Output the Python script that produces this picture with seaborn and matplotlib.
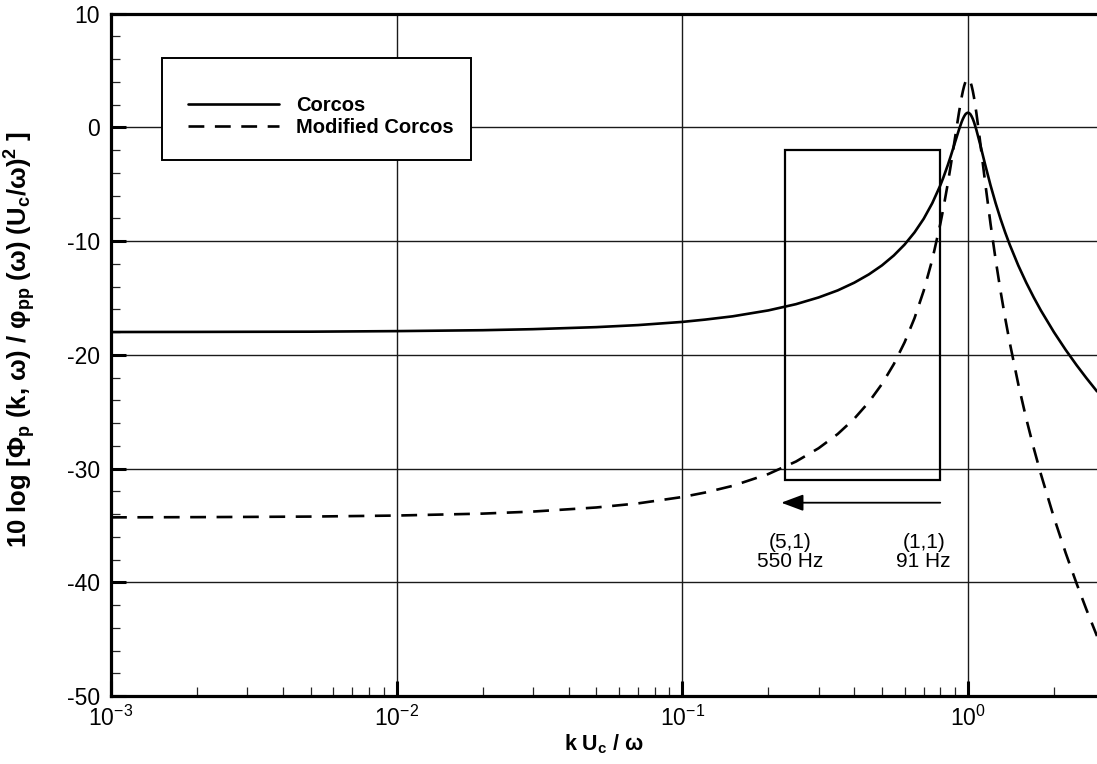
import numpy as np
import pandas as pd
import matplotlib
matplotlib.use("Agg")
import matplotlib.pyplot as plt
from matplotlib.patches import Rectangle
from matplotlib.ticker import LogLocator, MultipleLocator
import seaborn as sns

# ---- data ----
k_uc_omega = [0.001, 0.002, 0.003, 0.005, 0.01, 0.02, 0.03, 0.05, 0.07, 0.1,
              0.12, 0.15, 0.2, 0.25, 0.3, 0.35, 0.4, 0.45, 0.5, 0.55,
              0.6, 0.65, 0.7, 0.75, 0.8, 0.82, 0.85, 0.87, 0.9, 0.93,
              0.95, 0.96, 0.97, 0.98, 0.99, 1.0, 1.01, 1.02, 1.03, 1.04,
              1.05, 1.07, 1.1, 1.13, 1.15, 1.2, 1.25, 1.3, 1.35, 1.4,
              1.5, 1.6, 1.7, 1.8, 2.0, 2.2, 2.4, 2.6, 2.83]
corcos = [-17.99, -17.98, -17.97, -17.96, -17.91, -17.83, -17.74, -17.56, -17.38, -17.10,
          -16.90, -16.61, -16.09, -15.54, -14.95, -14.33, -13.65, -12.92, -12.13, -11.26,
          -10.30, -9.23, -8.03, -6.66, -5.10, -4.41, -3.31, -2.54, -1.35, -0.20,
          0.47, 0.75, 0.98, 1.16, 1.26, 1.30, 1.26, 1.16, 0.98, 0.75,
          0.47, -0.20, -1.35, -2.54, -3.31, -5.10, -6.66, -8.03, -9.23, -10.30,
          -12.13, -13.65, -14.95, -16.09, -18.00, -19.57, -20.90, -22.05, -23.21]
modified_corcos = [-34.29, -34.27, -34.25, -34.22, -34.13, -33.96, -33.78, -33.42, -33.06, -32.50,
                   -32.11, -31.52, -30.48, -29.38, -28.21, -26.96, -25.61, -24.15, -22.56, -20.82,
                   -18.90, -16.77, -14.36, -11.63, -8.50, -7.13, -4.93, -3.38, -1.00, 1.30,
                   2.64, 3.20, 3.66, 4.01, 4.22, 4.30, 4.22, 4.01, 3.66, 3.20,
                   2.64, 1.30, -1.00, -3.38, -4.93, -8.50, -11.63, -14.36, -16.77, -18.90,
                   -22.56, -25.61, -28.21, -30.48, -34.30, -37.44, -40.10, -42.41, -44.73]
series_names = ["Corcos", "Modified Corcos"]

# highlighted window and frequency-sweep arrow
box_x = [0.229, 0.80]
box_y = [-31.0, -2.0]
arrow_x = [0.80, 0.222]
arrow_y = -33.0
mode_labels = ["(5,1)\n550 Hz", "(1,1)\n91 Hz"]
mode_x = [0.238, 0.70]
mode_y = -37.3

df = pd.DataFrame({
    "x": k_uc_omega * 2,
    "y": corcos + modified_corcos,
    "model": [series_names[0]] * len(k_uc_omega) + [series_names[1]] * len(k_uc_omega),
})

sns.set_style("white")
plt.rcParams["font.family"] = ["Liberation Sans", "DejaVu Sans"]
plt.rcParams["mathtext.fontset"] = "custom"
plt.rcParams["mathtext.rm"] = "Liberation Sans"
plt.rcParams["mathtext.bf"] = "Liberation Sans:bold"
plt.rcParams["mathtext.it"] = "Liberation Sans:italic"
plt.rcParams["axes.unicode_minus"] = False
plt.rcParams["text.color"] = "black"
plt.rcParams["axes.labelcolor"] = "black"

fig = plt.figure(figsize=(10.97, 7.64), dpi=100)
ax = fig.add_axes([0.1012, 0.089, 0.8988, 0.893])

sns.lineplot(data=df, x="x", y="y", style="model", color="black",
             dashes={series_names[0]: "", series_names[1]: (6, 4)},
             linewidth=1.9, sort=False, estimator=None, ax=ax, legend=False)

ax.set_xscale("log")
ax.set_xlim(1e-3, 2.83)
ax.set_ylim(-50, 10)

ax.xaxis.set_major_locator(LogLocator(base=10, numticks=10))
ax.xaxis.set_minor_locator(LogLocator(base=10, subs=np.arange(2, 10), numticks=20))
ax.yaxis.set_major_locator(MultipleLocator(10))
ax.yaxis.set_minor_locator(MultipleLocator(2))

ax.grid(True, which="major", color="#1a1a1a", linewidth=1.0)
ax.set_axisbelow(True)

ax.tick_params(axis="both", which="both", bottom=True, left=True, top=False, right=False)
ax.tick_params(axis="both", which="major", direction="in", length=11, width=2.2,
               labelsize=16.5, pad=8, colors="black")
ax.tick_params(axis="both", which="minor", direction="in", length=6.5, width=0.9)
ax.tick_params(axis="x", which="major", pad=7)

for side in ["left", "bottom", "top"]:
    ax.spines[side].set_linewidth(2.3)
    ax.spines[side].set_color("black")
ax.spines["right"].set_visible(False)

ax.set_xlabel(r"k U$_\mathbf{c}$ / ω", fontsize=15.5, fontweight="bold", labelpad=1)
ax.set_ylabel(r"10 log [Φ$_\mathbf{p}$ (k, ω) / φ$_\mathbf{pp}$ (ω) (U$_\mathbf{c}$/ω)$^\mathbf{2}$ ]",
              fontsize=18.5, fontweight="bold")
ax.yaxis.set_label_coords(-0.074, 0.523)

# window rectangle
ax.add_patch(Rectangle((box_x[0], box_y[0]), box_x[1] - box_x[0], box_y[1] - box_y[0],
                       fill=False, edgecolor="black", linewidth=1.6, zorder=3))
# arrow
ax.annotate("", xy=(arrow_x[1], arrow_y), xytext=(arrow_x[0], arrow_y),
            arrowprops=dict(arrowstyle="-|>,head_length=0.75,head_width=0.28",
                            mutation_scale=18, color="black", lw=1.3,
                            shrinkA=0, shrinkB=0))
for lbl, mx in zip(mode_labels, mode_x):
    ax.text(mx, mode_y, lbl, ha="center", va="center", fontsize=15,
            linespacing=1.0)

# legend with a separately drawn frame
ax.add_patch(Rectangle((0.0517, 0.786), 0.313, 0.1496, transform=ax.transAxes,
                       facecolor="white", edgecolor="black", linewidth=1.4, zorder=4))
handles = [plt.Line2D([], [], color="black", lw=1.9),
           plt.Line2D([], [], color="black", lw=1.9, linestyle=(0, (6, 4)))]
leg = ax.legend(handles, series_names, loc="upper left", bbox_to_anchor=(0.068, 0.894),
                frameon=False, borderpad=0, handlelength=4.5, handletextpad=0.85,
                labelspacing=0.12, prop={"weight": "bold", "size": 14.5})
leg.set_zorder(5)

fig.savefig("out.png", dpi=100)
